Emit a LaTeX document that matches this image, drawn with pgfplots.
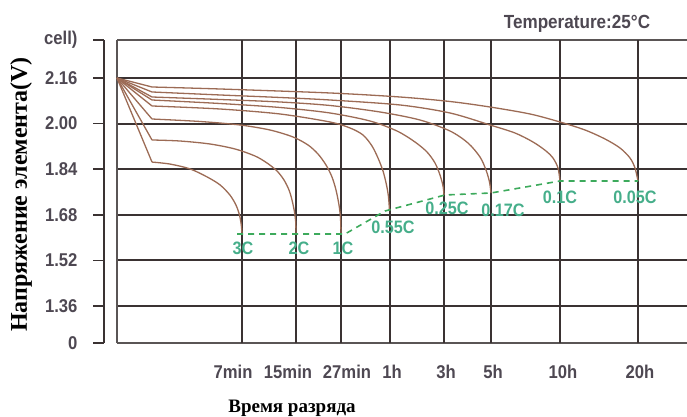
\documentclass[border=0pt]{standalone}
\usepackage{fontspec}
\setmainfont{Liberation Sans}
\newfontfamily\serifb{Liberation Serif}
\newfontfamily\condf[FakeStretch=0.9]{Liberation Sans}
\usepackage{pgfplots}
\pgfplotsset{compat=1.18}
\definecolor{curvec}{HTML}{9C6B55}
\definecolor{gridc}{HTML}{3A3232}
\definecolor{boxc}{HTML}{5A5555}
\definecolor{dashg}{HTML}{3DAA5C}
\definecolor{labg}{HTML}{46AE8A}
\definecolor{tickc}{HTML}{4E4852}
\begin{document}
\begin{tikzpicture}[x=1pt,y=1pt]
\useasboundingbox (0,0) rectangle (687,417);
% left separate scale axis
\begin{axis}[
  at={(104pt,74pt)}, anchor=south west, scale only axis,
  width=5pt, height=303pt,
  xmin=0, xmax=1, ymin=1.2302, ymax=2.2933,
  axis y line*=left, axis x line=none,
  xtick=\empty,
  ytick={1.2302,1.36,1.52,1.68,1.84,2.00,2.16,2.2933},
  yticklabels={0,1.36,1.52,1.68,1.84,2.00,2.16,cell)},
  tick align=outside, major tick length=11pt,
  tick style={line width=1.8pt, color=gridc},
  axis line style={line width=1.8pt, color=gridc},
  yticklabel style={font=\condf\bfseries\fontsize{18.5}{19}\selectfont, text=tickc, xshift=-12pt},
  ylabel={Напряжение элемента(V)},
  ylabel style={font=\serifb\bfseries\fontsize{24}{25}\selectfont, text=black, at={(axis description cs:0,0.49)}, anchor=center, yshift=83pt},
]
\end{axis}
% main grid axis
\begin{axis}[
  at={(117pt,74pt)}, anchor=south west, scale only axis,
  width=570pt, height=303pt,
  xmin=117, xmax=687, ymin=1.2302, ymax=2.2933,
  axis x line*=box, axis y line*=left,
  axis line style={line width=2.2pt, color=boxc},
  xtick={233,288,347,392,446,493,563,640},
  xticklabels={7min,15min,27min,1h,3h,5h,10h,20h},
  xtick style={draw=none},
  xticklabel style={font=\condf\bfseries\fontsize{18.5}{19}\selectfont, text=tickc, yshift=-19pt},
  extra x ticks={242,296,341,389.5,444,491,560,638},
  extra x tick labels={},
  extra x tick style={xmajorgrids=true, tick style={draw=none}},
  ytick={1.36,1.52,1.68,1.84,2.00,2.16},
  yticklabels={},
  ytick style={draw=none},
  ymajorgrids=true,
  major grid style={line width=2pt, color=gridc},
  xlabel={Время разряда},
  xlabel style={font=\serifb\bfseries\fontsize{19}{20}\selectfont, at={(axis description cs:0.307,-0.2145)}, anchor=center},
  clip=false,
]
% 3C
\addplot[curvec, line width=1.3pt] coordinates {(117,2.16) (152,1.865)};
\addplot[curvec, line width=1.3pt, smooth] coordinates {(152,1.865) (170,1.858) (190,1.841) (207,1.813) (220,1.785) (230,1.749) (236,1.714) (239.5,1.679) (241.3,1.644) (242,1.613)};
% 2C
\addplot[curvec, line width=1.3pt] coordinates {(117,2.16) (152,1.9425)};
\addplot[curvec, line width=1.3pt, smooth] coordinates {(152,1.9425) (180,1.9389) (210,1.9284) (235,1.9109) (255,1.8863) (267,1.8618) (277,1.8337) (284,1.8021) (289,1.7670) (292,1.7319) (294.5,1.6898) (295.7,1.6547) (296,1.6126)};
% 1C
\addplot[curvec, line width=1.3pt] coordinates {(117,2.16) (152,2.0161)};
\addplot[curvec, line width=1.3pt, smooth] coordinates {(152,2.0161) (200,2.0074) (240,1.9951) (270,1.9775) (293,1.9530) (308,1.9249) (318,1.8933) (326,1.8547) (332,1.8126) (336,1.7670) (339,1.7144) (340.5,1.6688) (341,1.6126)};
% 0.55C
\addplot[curvec, line width=1.3pt] coordinates {(117,2.16) (152,2.0618)};
\addplot[curvec, line width=1.3pt, smooth] coordinates {(152,2.0618) (220,2.0512) (280,2.0337) (330,2.0056) (350,1.9846) (363,1.9600) (372,1.9214) (378,1.8793) (383,1.8337) (386.5,1.7846) (388.5,1.7425) (389.5,1.6933)};
% 0.25C
\addplot[curvec, line width=1.3pt] coordinates {(117,2.16) (152,2.0828)};
\addplot[curvec, line width=1.3pt, smooth] coordinates {(152,2.0828) (220,2.0705) (280,2.0565) (330,2.0372) (370,2.0091) (397,1.9740) (415,1.9354) (427,1.9003) (435,1.8618) (440,1.8196) (443,1.7810) (444,1.7495)};
% 0.17C
\addplot[curvec, line width=1.3pt] coordinates {(117,2.16) (152,2.0933)};
\addplot[curvec, line width=1.3pt, smooth] coordinates {(152,2.0933) (220,2.0846) (280,2.0758) (330,2.0635) (380,2.0407) (420,2.0126) (450,1.9740) (468,1.9319) (480,1.8828) (486,1.8372) (489.5,1.7951) (491,1.7565)};
% 0.1C
\addplot[curvec, line width=1.3pt] coordinates {(117,2.16) (152,2.1109)};
\addplot[curvec, line width=1.3pt, smooth] coordinates {(152,2.1109) (220,2.1004) (280,2.0916) (330,2.0828) (400,2.0653) (450,2.0372) (490,1.9951) (515,1.9670) (533,1.9354) (546,1.9039) (553,1.8793) (558,1.8442) (560,1.7986)};
% 0.05C
\addplot[curvec, line width=1.3pt] coordinates {(117,2.16) (152,2.1284)};
\addplot[curvec, line width=1.3pt, smooth] coordinates {(152,2.1284) (220,2.1214) (330,2.1074) (400,2.0933) (450,2.0775) (490,2.0582) (530,2.0337) (560,2.0056) (585,1.9775) (605,1.9460) (620,1.9144) (630,1.8793) (635,1.8442) (638,1.7986)};
% end voltage line
\addplot[dashg, line width=1.6pt, dash pattern=on 6pt off 5pt] coordinates {(237,1.6126) (345,1.6126) (385,1.6933) (445,1.7495) (491,1.7565) (560,1.7986) (638,1.7986)};
% rate labels
\begin{scope}[every node/.style={font=\condf\bfseries\fontsize{18}{19}\selectfont, text=labg, inner sep=0pt}]
\node at (axis cs:243,1.5635) {3C};
\node at (axis cs:299,1.5635) {2C};
\node at (axis cs:343,1.5635) {1C};
\node at (axis cs:393,1.6372) {0.55C};
\node at (axis cs:447,1.7039) {0.25C};
\node at (axis cs:503,1.6968) {0.17C};
\node at (axis cs:560,1.7425) {0.1C};
\node at (axis cs:635,1.7425) {0.05C};
\end{scope}
\node[font=\condf\bfseries\fontsize{19}{20}\selectfont, text=tickc, inner sep=0pt] at (axis description cs:0.807,1.053) {Temperature:25°C};
\end{axis}
\end{tikzpicture}
\end{document}
